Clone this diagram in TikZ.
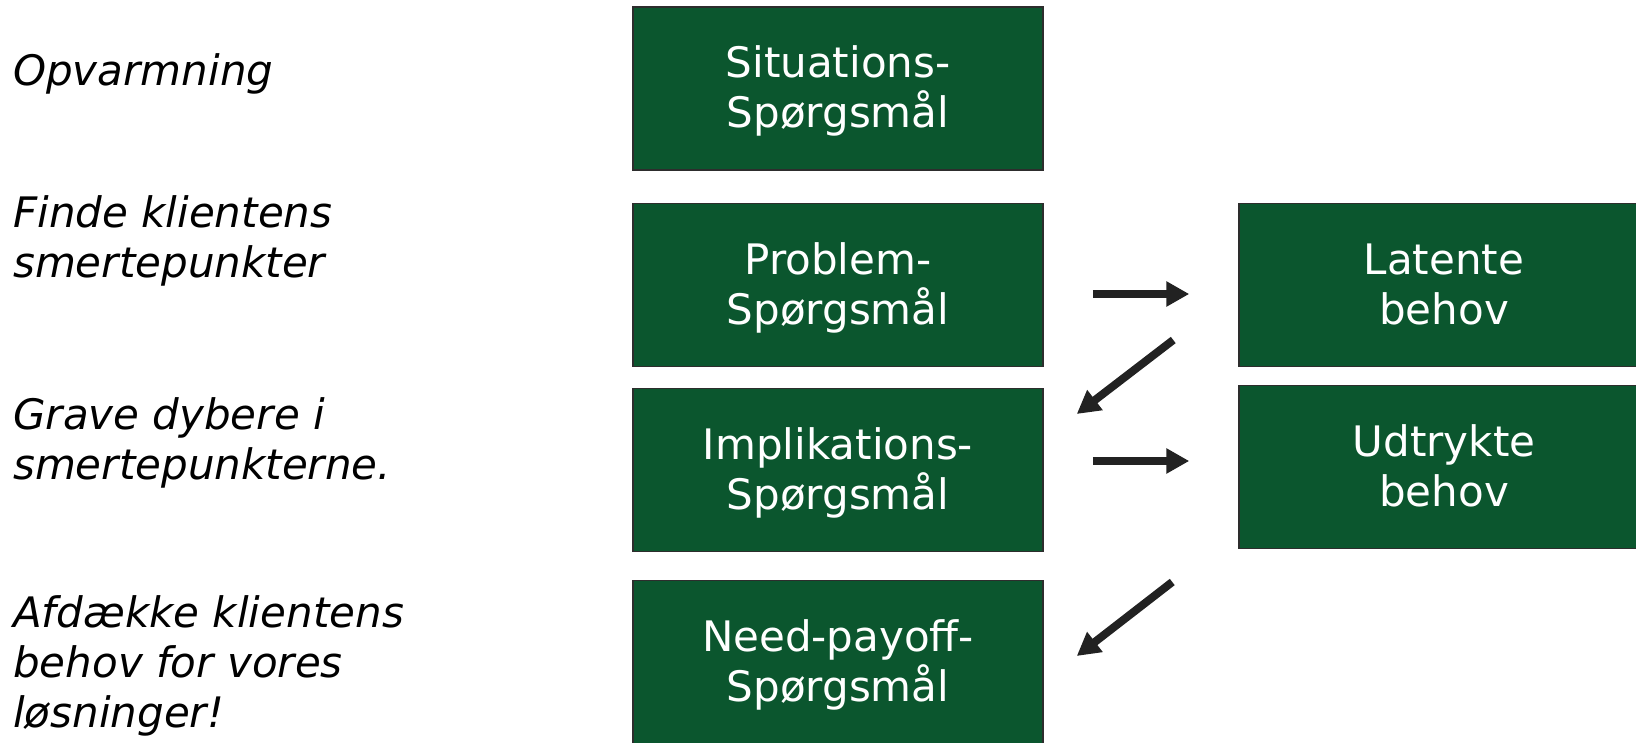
\documentclass[tikz,border=0pt]{standalone}
\usepackage{fontspec}
\setmainfont{DejaVu Sans}
\usetikzlibrary{arrows.meta,calc}
\definecolor{boxgreen}{RGB}{11,86,46}
\definecolor{boxline}{RGB}{45,45,45}
\definecolor{arrowc}{RGB}{34,34,34}
\newcommand\bxs{\rule[-10pt]{0pt}{48pt}}
\tikzset{
  qbox/.style={draw=boxline, line width=1.5pt, fill=boxgreen, text=white,
    minimum width=410pt, minimum height=163pt, inner sep=0pt, align=center,
    font=\fontsize{42}{50}\selectfont},
  lefttext/.style={anchor=base west, inner sep=0pt, align=left,
    font=\fontsize{42}{50}\selectfont\itshape},
  bigarrow/.style={draw=arrowc, line width=8pt, -{Triangle[length=23pt,width=24pt]}}
}
\begin{document}
\begin{tikzpicture}[x=1pt,y=-1pt]
\useasboundingbox (0,0) rectangle (1636,743);
\clip (0,0) rectangle (1636,743);
% left descriptions (base = last line)
\node[lefttext] (t1) at (13,85.5) {Opvarmning};
\node[lefttext] (t2) at (13,278) {Finde klientens\\smertepunkter};
\node[lefttext] (t3) at (13,479) {Grave dybere i\\smertepunkterne.};
\node[lefttext] (t4) at (13,727) {Afdække klientens\\behov for vores\\løsninger!};
% question boxes
\node[qbox] (S) at (838,88.5) {\bxs Situations-\\\bxs Spørgsmål};
\node[qbox] (P) at (838,285) {\bxs Problem-\\\bxs Spørgsmål};
\node[qbox] (I) at (838,470) {\bxs Implikations-\\\bxs Spørgsmål};
\node[qbox] (N) at (838,662) {\bxs Need-payoff-\\\bxs Spørgsmål};
% needs boxes
\node[qbox] (L) at (1444,285) {\bxs Latente\\\bxs behov};
\node[qbox] (U) at (1444,467) {\bxs Udtrykte\\\bxs behov};
% arrows
\draw[bigarrow] ($(P.east)+(49,9)$) -- ($(L.west)+(-49,9)$);
\draw[bigarrow] ($(L.west)+(-65,55)$) -- ($(I.east)+(33,-56)$);
\draw[bigarrow] ($(I.east)+(49,-9)$) -- ($(U.west)+(-49,-6)$);
\draw[bigarrow] ($(U.west)+(-66,115)$) -- ($(N.east)+(33,-6)$);
\end{tikzpicture}
\end{document}
